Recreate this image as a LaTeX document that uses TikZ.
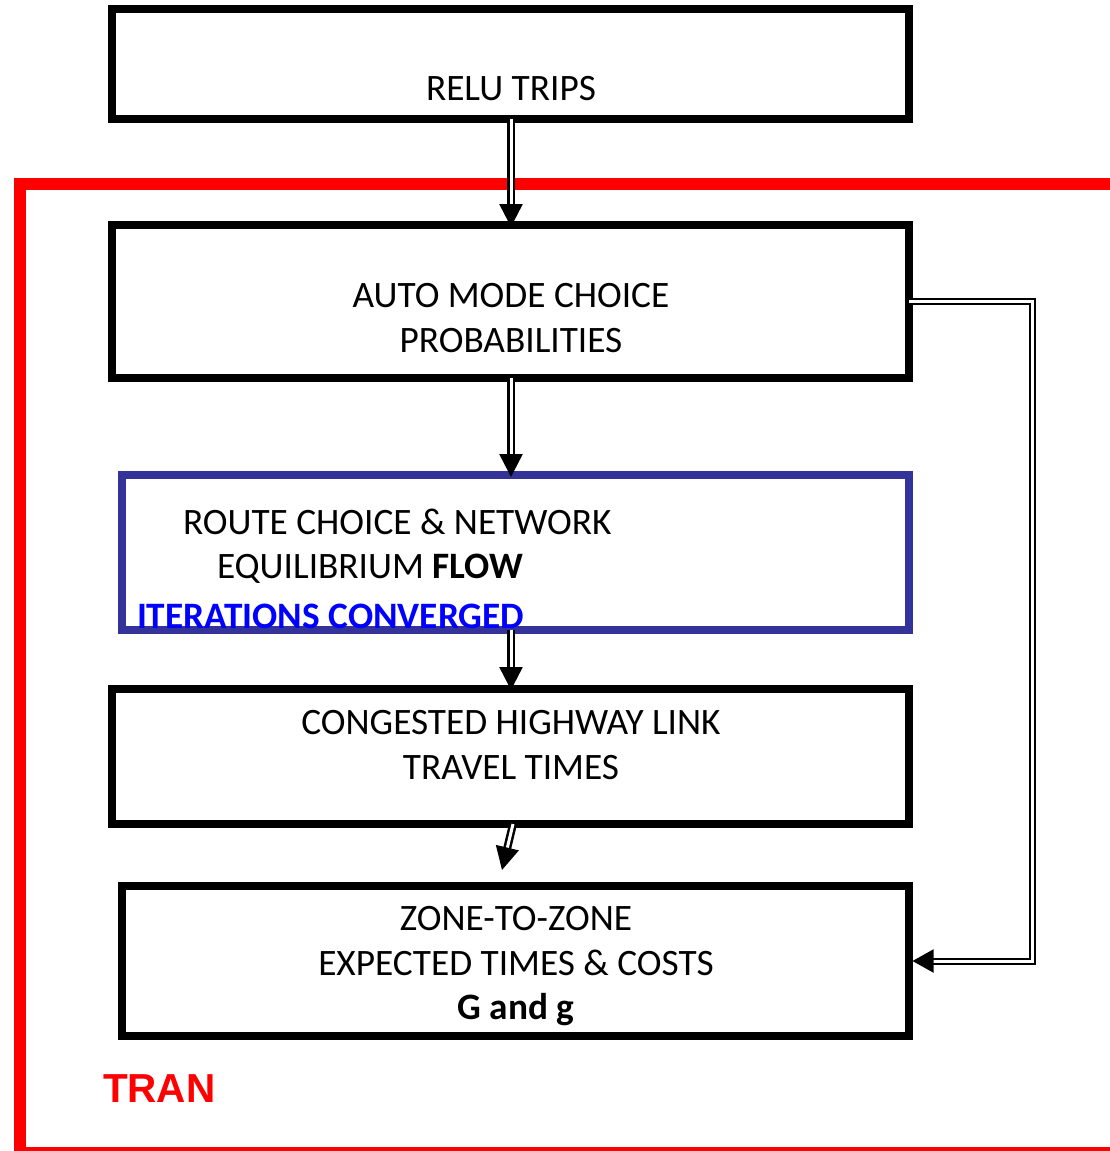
\documentclass[tikz,border=0pt]{standalone}
\usepackage{fontspec}
\setmainfont{Carlito}
\newfontfamily\arialfont{Liberation Sans}
\usetikzlibrary{arrows.meta}
\definecolor{routeblue}{HTML}{333399}
\definecolor{itblue}{HTML}{0000FF}
\definecolor{tranred}{HTML}{FF0000}
\tikzset{
  box/.style={draw=black, line width=7.5pt, inner sep=0pt, outer sep=0pt, fill=none},
  txt/.style={font=\fontsize{37.3}{45}\selectfont, inner sep=0pt, outer sep=0pt, anchor=base},
  dbl/.style={draw=black, line width=2.5pt, double=white, double distance=3pt,
              -{Triangle[length=23pt,width=23pt]}},
  dblthin/.style={draw=black, line width=2pt, double=white, double distance=3pt,
              -{Triangle[length=21pt,width=23pt]}},
  frame/.style={draw=tranred},
}
\begin{document}
\begin{tikzpicture}[x=1pt,y=-1pt]
\useasboundingbox (0,0) rectangle (1110,1151);
% red TRAN frame
\draw[frame, line width=12pt] (14,184) -- (1110,184);
\draw[frame, line width=12pt] (20,178) -- (20,1151);
\draw[frame, line width=4pt] (14,1149) -- (1110,1149);
% boxes
\node[box, minimum width=797pt, minimum height=110pt] (relu) at (510.5,64) {};
\node[box, minimum width=797pt, minimum height=153pt] (auto) at (510.5,301.5) {};
\node[box, draw=routeblue, minimum width=787pt, minimum height=155pt] (route) at (515.5,552.5) {};
\node[box, minimum width=797pt, minimum height=135pt] (cong) at (510.5,756.5) {};
\node[box, minimum width=787pt, minimum height=150pt] (zone) at (515.5,961) {};
% texts
\node[txt] (t1) at (511,100) {RELU TRIPS};
\node[txt] (t2) at (511,307) {AUTO MODE CHOICE};
\node[txt] (t3) at (511,352) {PROBABILITIES};
\node[txt, anchor=base west] (t4) at (183,534) {ROUTE CHOICE \& NETWORK};
\node[txt, anchor=base west] (t5) at (217,578) {EQUILIBRIUM \textbf{FLOW}};
\node[txt, anchor=base west, text=itblue, font=\fontsize{37.3}{45}\selectfont\bfseries] (t6) at (137,628) {ITERATIONS CONVERGED};
\node[txt] (t7) at (511,734) {CONGESTED HIGHWAY LINK};
\node[txt] (t8) at (511,779) {TRAVEL TIMES};
\node[txt] (t9) at (516,930) {ZONE-TO-ZONE};
\node[txt] (t10) at (516,975) {EXPECTED TIMES \& COSTS};
\node[txt] (t11) at (516,1019) {\textbf{G and g}};
\node[txt, anchor=base west, text=tranred, font=\fontsize{40.5}{48}\selectfont\arialfont\bfseries] (tran) at (103,1102) {TRAN};
% connectors
\draw[dbl, shorten >=-2pt] (relu.south -| 511,0) -- (auto.north -| 511,0);
\draw[dbl, shorten >=-2pt] (auto.south -| 511,0) -- (route.north -| 511,0);
\draw[dbl, shorten >=-1pt] (route.south -| 511,0) -- (cong.north -| 511,0);
\coordinate (e4) at (502,870);
\draw[dbl] ([xshift=2.5pt]cong.south) -- (e4);
\draw[dblthin, shorten >=3.5pt] (auto.east) -- ++(123,0) |- (zone.east);
\end{tikzpicture}
\end{document}
